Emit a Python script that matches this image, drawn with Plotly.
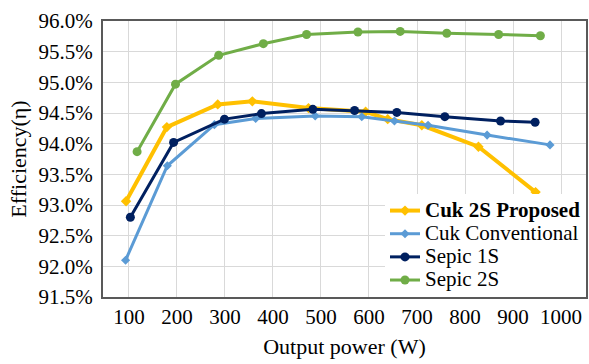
import plotly.graph_objects as go

# Data
cuk2s_x = [94, 179, 285, 357, 474, 593, 639, 710, 828, 947]
cuk2s_y = [93.06, 94.27, 94.64, 94.69, 94.58, 94.52, 94.40, 94.30, 93.95, 93.21]

cukconv_x = [93, 180, 278, 364, 488, 585, 653, 723, 846, 977]
cukconv_y = [92.10, 93.64, 94.31, 94.41, 94.45, 94.44, 94.37, 94.30, 94.14, 93.98]

sepic1_x = [103, 193, 299, 376, 483, 570, 658, 758, 874, 946]
sepic1_y = [92.80, 94.02, 94.40, 94.49, 94.56, 94.54, 94.51, 94.44, 94.37, 94.35]

sepic2_x = [117, 197, 287, 380, 470, 577, 665, 762, 870, 957]
sepic2_y = [93.87, 94.97, 95.44, 95.63, 95.78, 95.82, 95.83, 95.80, 95.78, 95.76]

x_ticks = [100, 200, 300, 400, 500, 600, 700, 800, 900, 1000]

FONT = "Liberation Serif"


def leg(txt, bold=False):
    s = "<span style='font-size:21px'>" + txt + "</span>"
    return "<b>" + s + "</b>" if bold else s


fig = go.Figure()
fig.add_trace(go.Scatter(x=cuk2s_x, y=cuk2s_y, mode="lines+markers",
                         name=leg("Cuk 2S Proposed", True),
                         line=dict(color="#FFC000", width=4),
                         marker=dict(symbol="diamond", size=8, color="#FFC000")))
fig.add_trace(go.Scatter(x=cukconv_x, y=cukconv_y, mode="lines+markers",
                         name=leg("Cuk Conventional"),
                         line=dict(color="#5B9BD5", width=3),
                         marker=dict(symbol="diamond", size=7, color="#5B9BD5")))
fig.add_trace(go.Scatter(x=sepic1_x, y=sepic1_y, mode="lines+markers",
                         name=leg("Sepic 1S"),
                         line=dict(color="#002060", width=3),
                         marker=dict(symbol="circle", size=9, color="#002060")))
fig.add_trace(go.Scatter(x=sepic2_x, y=sepic2_y, mode="lines+markers",
                         name=leg("Sepic 2S"),
                         line=dict(color="#70AD47", width=3),
                         marker=dict(symbol="circle", size=9, color="#70AD47")))

fig.update_layout(
    width=589, height=364,
    margin=dict(l=103, r=1, t=21, b=67),
    paper_bgcolor="white", plot_bgcolor="white",
    font=dict(family=FONT, size=21, color="black"),
    showlegend=True,
    legend=dict(x=1, xanchor="right", y=0, yanchor="bottom",
                bgcolor="white", borderwidth=0,
                font=dict(family=FONT, size=15.5, color="black"),
                itemwidth=30, tracegroupgap=0),
    xaxis=dict(range=[46, 1052], tickvals=x_ticks,
               tickfont=dict(family=FONT, size=21, color="black"),
               showgrid=True, gridcolor="#D9D9D9", gridwidth=1,
               showline=True, linecolor="#595959", linewidth=2, mirror=True,
               ticks="", zeroline=False,
               title=dict(text="Output power (W)", standoff=10,
                          font=dict(family=FONT, size=22))),
    yaxis=dict(range=[91.5, 96.0], dtick=0.5, tickformat=".1f", ticksuffix="%",
               tickfont=dict(family=FONT, size=21, color="black"),
               showgrid=True, gridcolor="#D9D9D9", gridwidth=1,
               showline=True, linecolor="#595959", linewidth=2, mirror=True,
               ticks="", zeroline=False, ticklabelstandoff=4,
               title=dict(text="Efficiency(η)", standoff=6,
                          font=dict(family=FONT, size=22))),
)

fig.write_html("out.html")
